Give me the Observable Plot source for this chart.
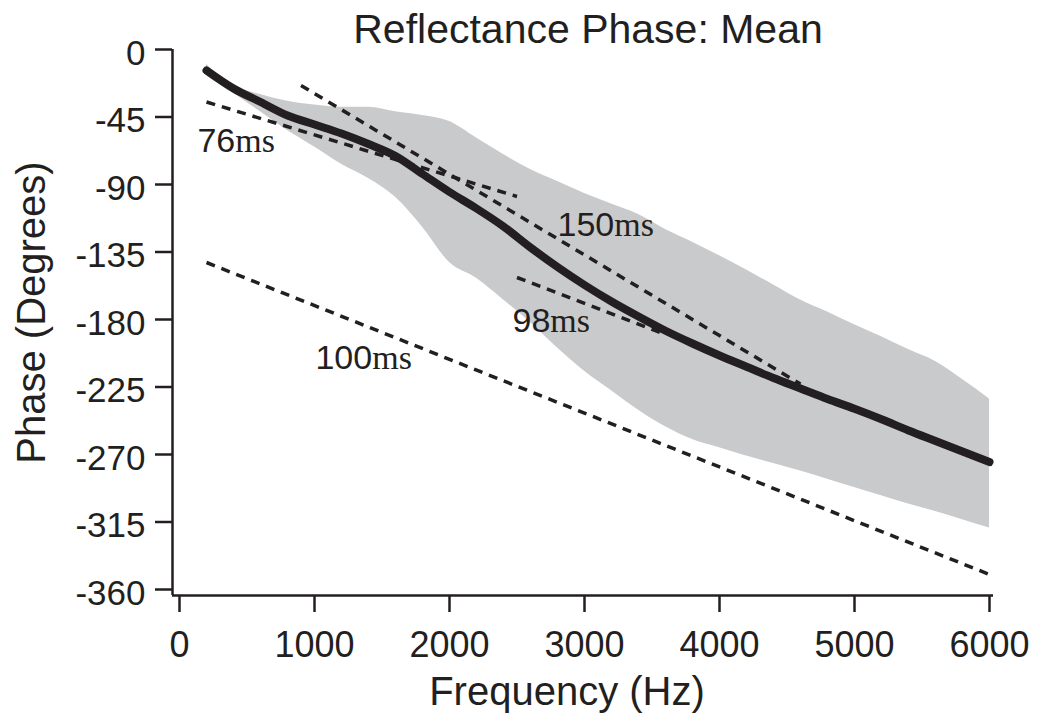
<!DOCTYPE html>
<html>
<head>
<meta charset="utf-8">
<script src="https://cdn.jsdelivr.net/npm/d3@7"></script>
<script src="https://cdn.jsdelivr.net/npm/@observablehq/plot@0.6"></script>
<style>
  html, body { margin: 0; padding: 0; background: #fff; }
  svg { display: block; }
</style>
</head>
<body>
<div id="chart"></div>
<script>
// ---- data ----
const freq = [200, 400, 600, 800, 1000, 1200, 1400, 1600, 1800, 2000, 2200, 2400, 2600, 2800, 3000,
              3200, 3400, 3600, 3800, 4000, 4200, 4400, 4600, 4800, 5000, 5200, 5400, 5600, 5800, 6000];
const meanPhase = [-14, -26, -35, -44, -50, -56, -63, -71, -83, -95, -106, -118, -132, -145, -157,
                   -168, -178, -187.5, -196, -204, -211.5, -219, -226, -233, -239.5, -246.5, -254, -261, -268, -275];
const upperPhase = [-10, -24, -30, -34.5, -37, -38.5, -38.5, -41.5, -44, -48, -59, -70, -80, -88, -96,
                    -103, -110, -120, -128.5, -137.5, -147, -157, -167, -175, -183.5, -191.5, -200, -208, -220, -233];
const lowerPhase = [-15, -29, -41.5, -54, -65, -76.5, -86, -98.5, -118.5, -142, -152.5, -167, -182, -199, -214.5,
                    -227.5, -240.5, -251.5, -260, -265.5, -271, -276, -281, -286.5, -292, -297.5, -303, -308, -313.5, -319];

// group-delay reference lines (dashed)
const delayLabels = ["76ms", "150ms", "98ms", "100ms"];
const delayStartFreq = [200, 900, 2500, 200];
const delayStartPhase = [-35, -24, -152, -142];
const delayEndFreq = [2500, 4600, 3600, 6000];
const delayEndPhase = [-98, -223, -190, -350];
const labelFreq = [133, 2800, 2467, 1007];
const labelPhase = [-61, -117, -181, -206];

const xTicks = [0, 1000, 2000, 3000, 4000, 5000, 6000];
const yTicks = [0, -45, -90, -135, -180, -225, -270, -315, -360];

const titleText = "Reflectance Phase: Mean";
const xLabel = "Frequency (Hz)";
const yLabel = "Phase (Degrees)";

// ---- tables built from the arrays ----
const rows = freq.map((f, i) => ({f, mean: meanPhase[i], lo: lowerPhase[i], hi: upperPhase[i]}));
const segs = delayLabels.map((l, i) => ({
  label: l, f1: delayStartFreq[i], p1: delayStartPhase[i], f2: delayEndFreq[i], p2: delayEndPhase[i],
  lf: labelFreq[i], lp: labelPhase[i]
}));

const ink = "#231f20";
const sans = "'Liberation Sans', Arial, Helvetica, sans-serif";
const fmt = d => String(d);

const chart = Plot.plot({
  width: 1037,
  height: 715,
  marginLeft: 172,
  marginRight: 44,
  marginTop: 49,
  marginBottom: 120,
  style: {fontFamily: sans, color: ink, background: "#fff", overflow: "visible"},
  x: {domain: [0, 6000], insetLeft: 7, insetRight: 4},
  y: {domain: [-360, 0], insetBottom: 6},
  marks: [
    Plot.areaY(rows, {x: "f", y1: "lo", y2: "hi", fill: "#c9cacc", curve: "monotone-x"}),
    Plot.line(rows, {x: "f", y: "mean", stroke: ink, strokeWidth: 8, curve: "monotone-x"}),
    Plot.link(segs, {x1: "f1", y1: "p1", x2: "f2", y2: "p2", stroke: ink, strokeWidth: 3.5, strokeDasharray: "9,7"}),
    Plot.text(segs, {x: "lf", y: "lp", text: "label", textAnchor: "start", fontSize: 34, fill: ink}),
    Plot.ruleX([0], {dx: -7, stroke: ink, strokeWidth: 2.5}),
    Plot.ruleY([-360], {dy: 6, stroke: ink, strokeWidth: 2.5}),
    // x axis: ticks + labels
    Plot.axisX({ticks: xTicks, tickSize: 17, tickPadding: 19, fontSize: 36, label: null,
                strokeWidth: 2.5, tickFormat: fmt}),
    // y axis: ticks only, then labels nudged down slightly as in the original
    Plot.axisY({ticks: yTicks, tickSize: 17, label: null, strokeWidth: 2.5, tickFormat: () => ""}),
    Plot.axisY({ticks: yTicks, tickSize: 0, tickPadding: 27, fontSize: 35, label: null, dy: 4, tickFormat: fmt}),
    Plot.text([titleText], {frameAnchor: "top", lineAnchor: "middle", textAnchor: "middle",
                            dx: 5, dy: -20, fontSize: 41, fill: ink}),
    Plot.text([xLabel], {frameAnchor: "bottom", lineAnchor: "middle", textAnchor: "middle",
                         dx: -16, dy: 97, fontSize: 40, fill: ink}),
    Plot.text([yLabel], {frameAnchor: "left", lineAnchor: "middle", textAnchor: "middle",
                         dx: -140, dy: -10, rotate: -90, fontSize: 40, fill: ink})
  ]
});

// render the "ms" unit of the annotation labels in a serif face, as in the original
d3.select(chart).selectAll("text").each(function () {
  const t = this.textContent;
  const m = /^(\d+)(ms)$/.exec(t);
  if (m && this.childElementCount === 0) {
    const sel = d3.select(this);
    sel.text(null);
    sel.append("tspan").text(m[1]);
    sel.append("tspan").attr("font-family", "'Liberation Serif', 'DejaVu Serif', serif").text(m[2]);
  }
});

document.getElementById("chart").appendChild(chart);
</script>
</body>
</html>
